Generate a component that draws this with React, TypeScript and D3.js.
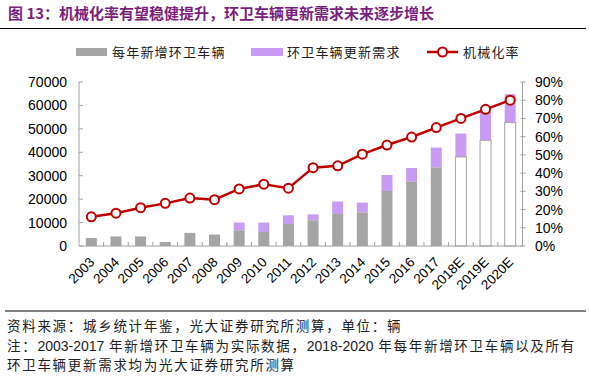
import React from "react";
import * as d3 from "d3";

const years = ["2003","2004","2005","2006","2007","2008","2009","2010","2011","2012","2013","2014","2015","2016","2017","2018E","2019E","2020E"];
const newVehicles = [3400,4100,4100,1700,5600,4900,6700,6000,9400,11000,13700,14300,23500,27600,33500,38000,45100,52700];
const totalWithRenewal = [3400,4100,4100,1700,5600,4900,10000,10000,13100,13500,19000,18500,30300,33300,42000,48000,57600,64800];
const mechRate = [16,18,21,23.4,26.3,25.4,31.3,33.9,31.7,43,44,50.4,55.4,59.8,65,70,75,80];
const leftTicks = [0,10000,20000,30000,40000,50000,60000,70000];
const rightTicks = [0,10,20,30,40,50,60,70,80,90];

const W = 589, H = 377;
const plotL = 79, plotR = 522.5, plotT = 82, plotB = 246;
const GRAY = "#A5A5A5";
const PURPLE = "#C79CF2";
const RED = "#C00000";
const FONT = "Arial, 'Liberation Sans', sans-serif";
const CJK = "'Noto Sans CJK SC', sans-serif";

export default function App() {
  const x = d3.scaleBand().domain(years).range([plotL, plotR]).paddingInner(0).paddingOuter(0);
  const yL = d3.scaleLinear().domain([0, 70000]).range([plotB, plotT]);
  const yR = d3.scaleLinear().domain([0, 90]).range([plotB, plotT]);
  const bw = 11;
  const line = d3.line<number>().x((_, i) => x(years[i])! + x.bandwidth() / 2).y(d => yR(d));
  const isEst = (y: string) => y.endsWith("E");

  return (
    <svg width={W} height={H} style={{ position: "absolute", left: 0, top: 0, background: "#fff" }}>
      <text x={8} y={19} fontFamily={CJK} fontWeight="bold" fontSize={15} fill="#7A1F7D">图 13：机械化率有望稳健提升，环卫车辆更新需求未来逐步增长</text>
      <line x1={0} x2={586} y1={28.5} y2={28.5} stroke="#000" strokeWidth={1.2} />

      {/* legend */}
      <rect x={76} y={48} width={31} height={8} fill={GRAY} />
      <text x={112} y={57} fontFamily={CJK} fontSize={13} letterSpacing={1.2} fill="#222">每年新增环卫车辆</text>
      <rect x={251} y={48} width={32} height={8} fill={PURPLE} />
      <text x={287} y={57} fontFamily={CJK} fontSize={13} letterSpacing={1.2} fill="#222">环卫车辆更新需求</text>
      <line x1={427} x2={458} y1={52} y2={52} stroke={RED} strokeWidth={2.5} />
      <circle cx={442.5} cy={52} r={4.5} fill="#fff" stroke={RED} strokeWidth={2} />
      <text x={463} y={57} fontFamily={CJK} fontSize={13} letterSpacing={1.2} fill="#222">机械化率</text>

      {/* bars */}
      {years.map((yr, i) => {
        const cx = x(yr)! + x.bandwidth() / 2;
        const est = isEst(yr);
        return (
          <g key={yr}>
            <rect x={cx - bw / 2} y={yL(totalWithRenewal[i])} width={bw} height={yL(newVehicles[i]) - yL(totalWithRenewal[i])} fill={PURPLE} />
            <rect x={cx - bw / 2} y={yL(newVehicles[i])} width={bw} height={plotB - yL(newVehicles[i])}
              fill={est ? "#fff" : GRAY} stroke={est ? GRAY : "none"} strokeWidth={est ? 1 : 0} />
          </g>
        );
      })}

      {/* axes */}
      <line x1={plotL} x2={plotL} y1={plotT} y2={plotB} stroke="#A0A0A0" />
      <line x1={plotR} x2={plotR} y1={plotT} y2={plotB} stroke="#A0A0A0" />
      <line x1={plotL} x2={plotR} y1={plotB} y2={plotB} stroke="#A0A0A0" />
      {leftTicks.map(t => (
        <g key={t}>
          <line x1={plotL} x2={plotL + 4} y1={yL(t)} y2={yL(t)} stroke="#A0A0A0" />
          <text x={67} y={yL(t) + 5} textAnchor="end" fontFamily={FONT} fontSize={14} fill="#000">{t}</text>
        </g>
      ))}
      {rightTicks.map(t => (
        <g key={t}>
          <line x1={plotR - 2} x2={plotR + 3} y1={yR(t)} y2={yR(t)} stroke="#A0A0A0" />
          <text x={535} y={yR(t) + 5} textAnchor="start" fontFamily={FONT} fontSize={14} fill="#000">{t}%</text>
        </g>
      ))}
      {years.map((yr, i) => i > 0 ? (
        <line key={"t" + yr} x1={x(yr)!} x2={x(yr)!} y1={plotB} y2={plotB - 4} stroke="#A0A0A0" />
      ) : null)}
      {years.map(yr => {
        const cx = x(yr)! + x.bandwidth() / 2;
        return (
          <text key={"l" + yr} transform={`translate(${cx + 4},${plotB + 17}) rotate(-45)`} textAnchor="end"
            fontFamily={FONT} fontSize={13.5} fill="#000">{yr}</text>
        );
      })}

      {/* line */}
      <path d={line(mechRate) || ""} fill="none" stroke={RED} strokeWidth={2.5} />
      {mechRate.map((v, i) => (
        <circle key={i} cx={x(years[i])! + x.bandwidth() / 2} cy={yR(v)} r={4.5} fill="#fff" stroke={RED} strokeWidth={2} />
      ))}

      {/* footer */}
      <line x1={5} x2={586} y1={311} y2={311} stroke="#000" strokeWidth={1.2} />
      <text x={7} y={331} fontFamily={CJK} fontSize={13.5} letterSpacing={1.7} fill="#222">资料来源：城乡统计年鉴，光大证券研究所测算，单位：辆</text>
      <text x={7} y={351} fontFamily={CJK} fontSize={13.5} letterSpacing={1.7} fill="#222">注：<tspan fontFamily={FONT} fontSize={14} letterSpacing={0}>2003-2017</tspan> 年新增环卫车辆为实际数据，<tspan fontFamily={FONT} fontSize={14} letterSpacing={0}>2018-2020</tspan> 年每年新增环卫车辆以及所有</text>
      <text x={7} y={370} fontFamily={CJK} fontSize={13.5} letterSpacing={1.7} fill="#222">环卫车辆更新需求均为光大证券研究所测算</text>
    </svg>
  );
}
